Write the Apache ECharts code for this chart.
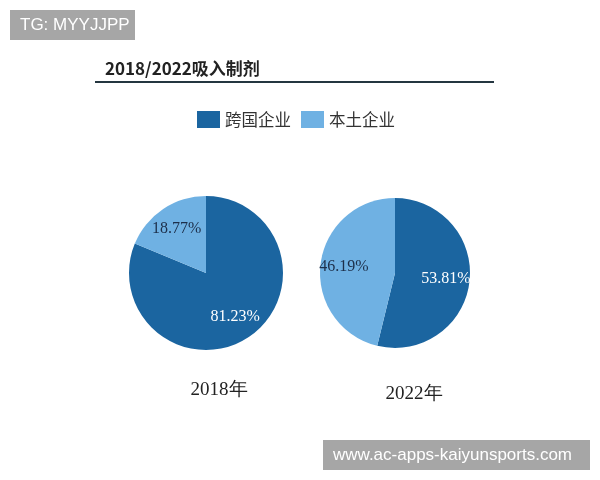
<!DOCTYPE html>
<html><head><meta charset="utf-8">
<script src="https://cdn.jsdelivr.net/npm/echarts@6/dist/echarts.min.js"></script>
<style>html,body{margin:0;padding:0;background:#fff}#c{width:600px;height:480px}</style>
</head><body><div id="c"></div>
<script>
const titleText = '2018/2022吸入制剂';
const categories = ['跨国企业', '本土企业'];
const years = ['2018年', '2022年'];
const values2018 = [81.23, 18.77];
const values2022 = [53.81, 46.19];
const colors = ['#1b65a0', '#6fb1e3'];
const labelColors = ['#ffffff', '#1d2f4a'];

const chart = echarts.init(document.getElementById('c'));
const serif = '"Liberation Serif", "Times New Roman", serif';
const cjk = '"Noto Sans CJK SC", "Noto Sans", sans-serif';

function mk(vals) {
  return vals.map((v, i) => ({ name: categories[i], value: v, itemStyle: { color: colors[i] },
    label: { color: labelColors[i] } }));
}
const pies = [
  { vals: values2018, center: [206, 273], r: 77 },
  { vals: values2022, center: [395, 273], r: 75 }
];
const series = [];
pies.forEach(p => {
  series.push({ type: 'pie', center: p.center, radius: p.r, startAngle: 90, clockwise: true,
    data: mk(p.vals), label: { show: false }, labelLine: { show: false }, silent: true, animation: false });
  series.push({ type: 'pie', center: p.center, radius: [p.r * 0.29, p.r], startAngle: 90, clockwise: true,
    data: mk(p.vals).map(d => Object.assign(d, { itemStyle: { color: 'rgba(0,0,0,0)' } })),
    label: { show: true, position: 'inside', formatter: p2 => p2.value.toFixed(2) + '%',
      fontFamily: serif, fontSize: 16 },
    labelLine: { show: false }, silent: true, animation: false, legendHoverLink: false });
});

chart.setOption({
  backgroundColor: '#ffffff',
  animation: false,
  title: [
    { text: titleText, left: 100, top: 55, textStyle: { fontFamily: cjk, fontSize: 17, fontWeight: 'bold', color: '#222' } },
    { text: years[0], left: 214, top: 376, textAlign: 'center', textStyle: { fontFamily: serif, fontSize: 19, fontWeight: 'normal', color: '#222' } },
    { text: years[1], left: 409, top: 380, textAlign: 'center', textStyle: { fontFamily: serif, fontSize: 19, fontWeight: 'normal', color: '#222' } }
  ],
  legend: {
    data: categories.map((c, i) => ({ name: c, itemStyle: { color: colors[i] } })),
    left: 192, top: 106, itemWidth: 23, itemHeight: 17, itemGap: 10, icon: 'rect',
    textStyle: { fontFamily: cjk, fontSize: 16.5, color: '#333' }
  },
  graphic: [
    { type: 'line', shape: { x1: 95, y1: 82, x2: 494, y2: 82 }, style: { stroke: '#243640', lineWidth: 2 } },
    { type: 'rect', shape: { x: 10, y: 10, width: 125, height: 30 }, style: { fill: '#a6a6a6' } },
    { type: 'text', x: 20, y: 25, style: { text: 'TG: MYYJJPP', fill: '#fff', verticalAlign: 'middle', font: '17px "Liberation Sans", Arial, sans-serif' } },
    { type: 'rect', shape: { x: 323, y: 440, width: 267, height: 30 }, style: { fill: '#a6a6a6' } },
    { type: 'text', x: 333, y: 455, style: { text: 'www.ac-apps-kaiyunsports.com', fill: '#fff', verticalAlign: 'middle', font: '17px "Liberation Sans", Arial, sans-serif' } }
  ],
  series: series
});
</script></body></html>
